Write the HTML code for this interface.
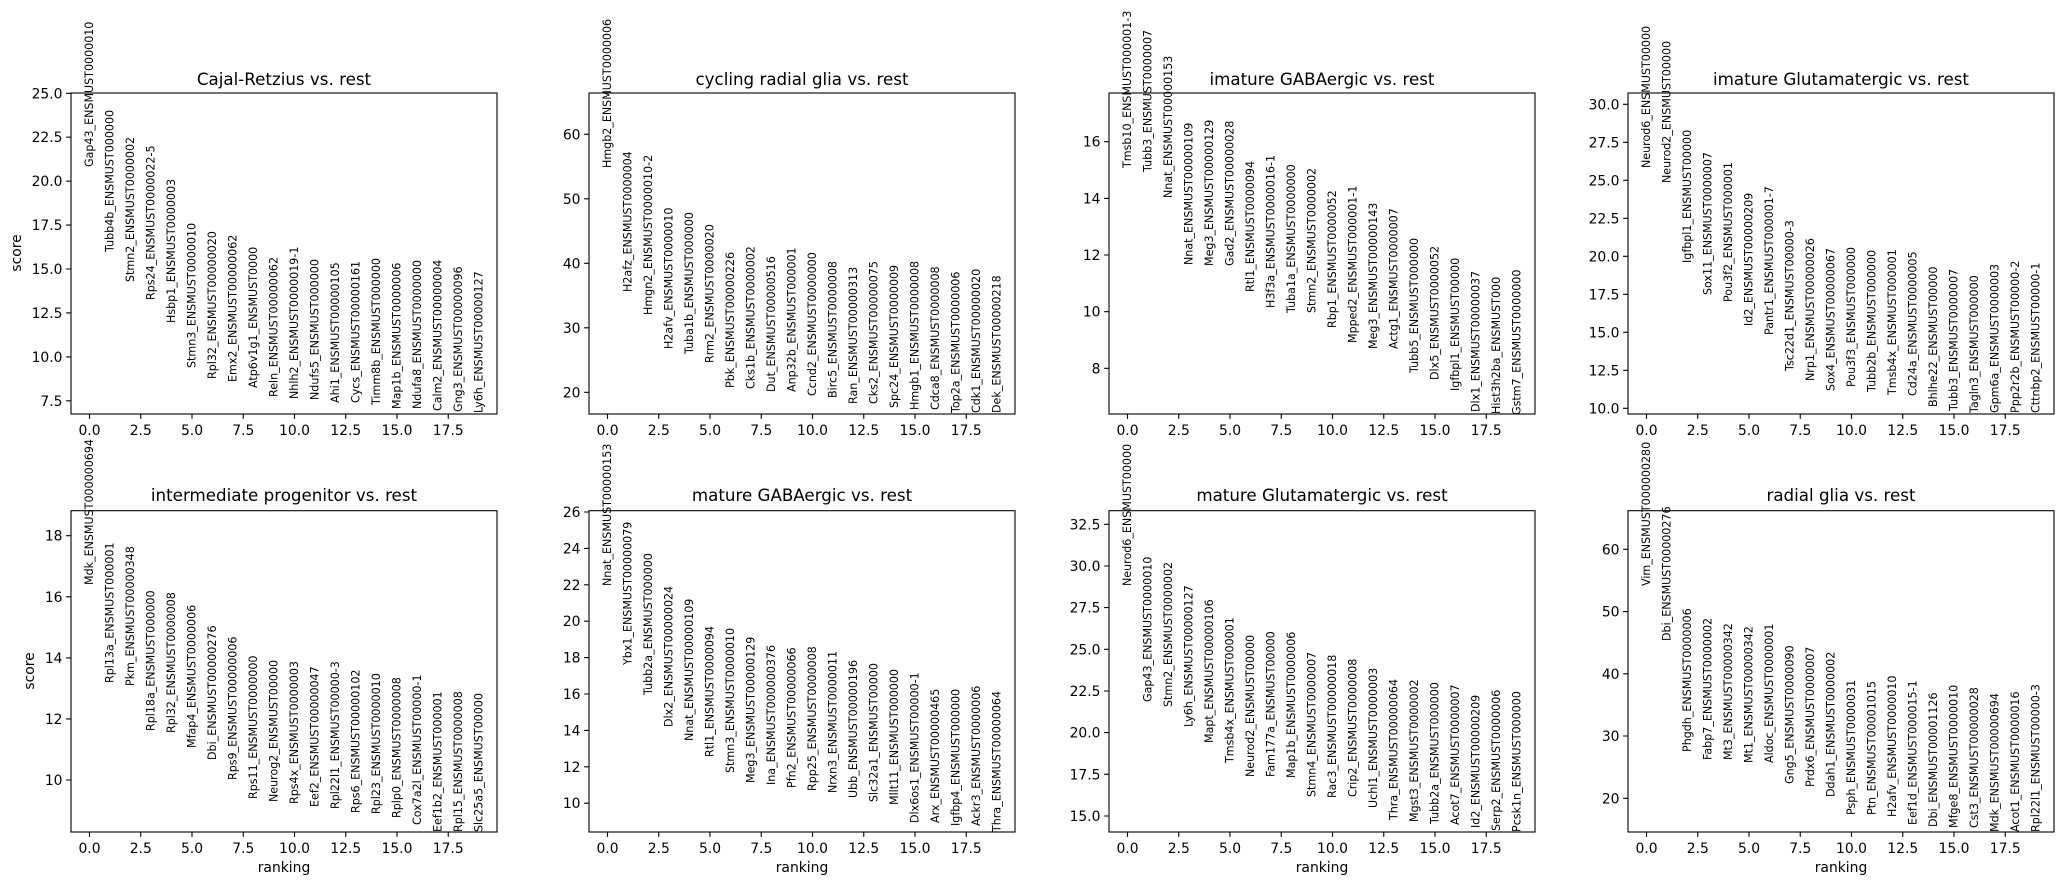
<!DOCTYPE html>
<html><head><meta charset="utf-8"><style>
body{margin:0;background:#fff}
svg{font-family:"DejaVu Sans","Liberation Sans",sans-serif;display:block}
.g{font-size:11.1px}
.t{font-size:13.9px}
.h{font-size:16.7px}
</style></head><body>
<svg width="2064" height="885" viewBox="0 0 2064 885" xmlns="http://www.w3.org/2000/svg">
<defs>
<g id="xt">
<path d="M18.5 0v4.9M69.75 0v4.9M121 0v4.9M172.25 0v4.9M223.5 0v4.9M274.75 0v4.9M326 0v4.9M377.25 0v4.9" stroke="#000" stroke-width="1.1"/>
<g class="t" text-anchor="middle">
<text x="18.5" y="21">0.0</text><text x="69.75" y="21">2.5</text><text x="121" y="21">5.0</text><text x="172.25" y="21">7.5</text><text x="223.5" y="21">10.0</text><text x="274.75" y="21">12.5</text><text x="326" y="21">15.0</text><text x="377.25" y="21">17.5</text>
</g></g>
</defs>

<!-- Panel 1 -->
<g transform="translate(71,0)">
<text class="h" x="213" y="85" text-anchor="middle">Cajal-Retzius vs. rest</text>
<rect x="0" y="93" width="426" height="321" fill="none" stroke="#000" stroke-width="1.1"/>
<g transform="translate(0,414)"><use href="#xt"/></g>
<g class="t" text-anchor="end">
<text x="-8.5" y="98.3">25.0</text><text x="-8.5" y="142.2">22.5</text><text x="-8.5" y="186.2">20.0</text><text x="-8.5" y="230.1">17.5</text><text x="-8.5" y="274.0">15.0</text><text x="-8.5" y="317.9">12.5</text><text x="-8.5" y="361.9">10.0</text><text x="-8.5" y="405.8">7.5</text>
</g>
<path d="M0 93.3h-4.9M0 137.2h-4.9M0 181.2h-4.9M0 225.1h-4.9M0 269h-4.9M0 312.9h-4.9M0 356.9h-4.9M0 400.8h-4.9" stroke="#000" stroke-width="1.1"/>
<g class="g">
<text transform="translate(22,167) rotate(-90)">Gap43_ENSMUST0000010</text>
<text transform="translate(42.5,252) rotate(-90)">Tubb4b_ENSMUST000000</text>
<text transform="translate(63,282) rotate(-90)">Stmn2_ENSMUST0000002</text>
<text transform="translate(83.5,300) rotate(-90)">Rps24_ENSMUST0000022-5</text>
<text transform="translate(104,323) rotate(-90)">Hsbp1_ENSMUST0000003</text>
<text transform="translate(124.5,368) rotate(-90)">Stmn3_ENSMUST0000010</text>
<text transform="translate(145,379) rotate(-90)">Rpl32_ENSMUST00000020</text>
<text transform="translate(165.5,382) rotate(-90)">Emx2_ENSMUST00000062</text>
<text transform="translate(186,388) rotate(-90)">Atp6v1g1_ENSMUST0000</text>
<text transform="translate(206.5,397) rotate(-90)">Reln_ENSMUST00000062</text>
<text transform="translate(227,399) rotate(-90)">Nhlh2_ENSMUST0000019-1</text>
<text transform="translate(247.5,400) rotate(-90)">Ndufs5_ENSMUST000000</text>
<text transform="translate(268,403) rotate(-90)">Ahi1_ENSMUST00000105</text>
<text transform="translate(288.5,403) rotate(-90)">Cycs_ENSMUST00000161</text>
<text transform="translate(309,405) rotate(-90)">Timm8b_ENSMUST000000</text>
<text transform="translate(329.5,409) rotate(-90)">Map1b_ENSMUST0000006</text>
<text transform="translate(350,409) rotate(-90)">Ndufa8_ENSMUST0000000</text>
<text transform="translate(370.5,411) rotate(-90)">Calm2_ENSMUST00000004</text>
<text transform="translate(391,412) rotate(-90)">Gng3_ENSMUST00000096</text>
<text transform="translate(411.5,413) rotate(-90)">Ly6h_ENSMUST00000127</text>
</g>
</g>

<!-- Panel 2 -->
<g transform="translate(589,0)">
<text class="h" x="213" y="85" text-anchor="middle">cycling radial glia vs. rest</text>
<rect x="0" y="93" width="426" height="321" fill="none" stroke="#000" stroke-width="1.1"/>
<g transform="translate(0,414)"><use href="#xt"/></g>
<g class="t" text-anchor="end">
<text x="-8.5" y="139.3">60</text><text x="-8.5" y="203.8">50</text><text x="-8.5" y="268.3">40</text><text x="-8.5" y="332.8">30</text><text x="-8.5" y="397.3">20</text>
</g>
<path d="M0 134.3h-4.9M0 198.8h-4.9M0 263.3h-4.9M0 327.8h-4.9M0 392.3h-4.9" stroke="#000" stroke-width="1.1"/>
<g class="g">
<text transform="translate(22,168) rotate(-90)">Hmgb2_ENSMUST0000006</text>
<text transform="translate(42.5,292) rotate(-90)">H2afz_ENSMUST0000004</text>
<text transform="translate(63,315) rotate(-90)">Hmgn2_ENSMUST0000010-2</text>
<text transform="translate(83.5,349) rotate(-90)">H2afv_ENSMUST0000010</text>
<text transform="translate(104,354) rotate(-90)">Tuba1b_ENSMUST000000</text>
<text transform="translate(124.5,363) rotate(-90)">Rrm2_ENSMUST0000020</text>
<text transform="translate(145,388) rotate(-90)">Pbk_ENSMUST00000226</text>
<text transform="translate(165.5,389) rotate(-90)">Cks1b_ENSMUST0000002</text>
<text transform="translate(186,392) rotate(-90)">Dut_ENSMUST00000516</text>
<text transform="translate(206.5,392) rotate(-90)">Anp32b_ENSMUST000001</text>
<text transform="translate(227,396) rotate(-90)">Ccnd2_ENSMUST0000000</text>
<text transform="translate(247.5,398) rotate(-90)">Birc5_ENSMUST0000008</text>
<text transform="translate(268,404) rotate(-90)">Ran_ENSMUST00000313</text>
<text transform="translate(288.5,404) rotate(-90)">Cks2_ENSMUST00000075</text>
<text transform="translate(309,408) rotate(-90)">Spc24_ENSMUST0000009</text>
<text transform="translate(329.5,410) rotate(-90)">Hmgb1_ENSMUST0000008</text>
<text transform="translate(350,410) rotate(-90)">Cdca8_ENSMUST0000008</text>
<text transform="translate(370.5,413) rotate(-90)">Top2a_ENSMUST0000006</text>
<text transform="translate(391,413) rotate(-90)">Cdk1_ENSMUST00000020</text>
<text transform="translate(411.5,413) rotate(-90)">Dek_ENSMUST00000218</text>
</g>
</g>

<!-- Panel 3 -->
<g transform="translate(1109,0)">
<text class="h" x="213" y="85" text-anchor="middle">imature GABAergic vs. rest</text>
<rect x="0" y="93" width="426" height="321" fill="none" stroke="#000" stroke-width="1.1"/>
<g transform="translate(0,414)"><use href="#xt"/></g>
<g class="t" text-anchor="end">
<text x="-8.5" y="146.7">16</text><text x="-8.5" y="203.4">14</text><text x="-8.5" y="260">12</text><text x="-8.5" y="316.7">10</text><text x="-8.5" y="373.3">8</text>
</g>
<path d="M0 141.7h-4.9M0 198.4h-4.9M0 255h-4.9M0 311.7h-4.9M0 368.3h-4.9" stroke="#000" stroke-width="1.1"/>
<g class="g">
<text transform="translate(22,168) rotate(-90)">Tmsb10_ENSMUST000001-3</text>
<text transform="translate(42.5,172) rotate(-90)">Tubb3_ENSMUST0000007</text>
<text transform="translate(63,198) rotate(-90)">Nnat_ENSMUST00000153</text>
<text transform="translate(83.5,265) rotate(-90)">Nnat_ENSMUST00000109</text>
<text transform="translate(104,266) rotate(-90)">Meg3_ENSMUST00000129</text>
<text transform="translate(124.5,266) rotate(-90)">Gad2_ENSMUST00000028</text>
<text transform="translate(145,292) rotate(-90)">Rtl1_ENSMUST0000094</text>
<text transform="translate(165.5,308) rotate(-90)">H3f3a_ENSMUST0000016-1</text>
<text transform="translate(186,313) rotate(-90)">Tuba1a_ENSMUST0000000</text>
<text transform="translate(206.5,313) rotate(-90)">Stmn2_ENSMUST0000002</text>
<text transform="translate(227,328) rotate(-90)">Rbp1_ENSMUST0000052</text>
<text transform="translate(247.5,343) rotate(-90)">Mpped2_ENSMUST000001-1</text>
<text transform="translate(268,349) rotate(-90)">Meg3_ENSMUST00000143</text>
<text transform="translate(288.5,349) rotate(-90)">Actg1_ENSMUST0000007</text>
<text transform="translate(309,373) rotate(-90)">Tubb5_ENSMUST000000</text>
<text transform="translate(329.5,380) rotate(-90)">Dlx5_ENSMUST0000052</text>
<text transform="translate(350,391) rotate(-90)">Igfbpl1_ENSMUST00000</text>
<text transform="translate(370.5,412) rotate(-90)">Dlx1_ENSMUST00000037</text>
<text transform="translate(391,414) rotate(-90)">Hist3h2ba_ENSMUST000</text>
<text transform="translate(411.5,415) rotate(-90)">Gstm7_ENSMUST0000000</text>
</g>
</g>

<!-- Panel 4 -->
<g transform="translate(1628,0)">
<text class="h" x="213" y="85" text-anchor="middle">imature Glutamatergic vs. rest</text>
<rect x="0" y="93" width="426" height="321" fill="none" stroke="#000" stroke-width="1.1"/>
<g transform="translate(0,414)"><use href="#xt"/></g>
<g class="t" text-anchor="end">
<text x="-8.5" y="109.3">30.0</text><text x="-8.5" y="147.3">27.5</text><text x="-8.5" y="185.3">25.0</text><text x="-8.5" y="223.3">22.5</text><text x="-8.5" y="261.3">20.0</text><text x="-8.5" y="299.3">17.5</text><text x="-8.5" y="337.3">15.0</text><text x="-8.5" y="375.3">12.5</text><text x="-8.5" y="413.3">10.0</text>
</g>
<path d="M0 104.3h-4.9M0 142.3h-4.9M0 180.3h-4.9M0 218.3h-4.9M0 256.3h-4.9M0 294.3h-4.9M0 332.3h-4.9M0 370.3h-4.9M0 408.3h-4.9" stroke="#000" stroke-width="1.1"/>
<g class="g">
<text transform="translate(22,168) rotate(-90)">Neurod6_ENSMUST00000</text>
<text transform="translate(42.5,183) rotate(-90)">Neurod2_ENSMUST00000</text>
<text transform="translate(63,263) rotate(-90)">Igfbpl1_ENSMUST00000</text>
<text transform="translate(83.5,295) rotate(-90)">Sox11_ENSMUST0000007</text>
<text transform="translate(104,302) rotate(-90)">Pou3f2_ENSMUST000001</text>
<text transform="translate(124.5,326) rotate(-90)">Id2_ENSMUST00000209</text>
<text transform="translate(145,335) rotate(-90)">Pantr1_ENSMUST000001-7</text>
<text transform="translate(165.5,371) rotate(-90)">Tsc22d1_ENSMUST00000-3</text>
<text transform="translate(186,381) rotate(-90)">Nrp1_ENSMUST00000026</text>
<text transform="translate(206.5,391) rotate(-90)">Sox4_ENSMUST00000067</text>
<text transform="translate(227,387) rotate(-90)">Pou3f3_ENSMUST000000</text>
<text transform="translate(247.5,392) rotate(-90)">Tubb2b_ENSMUST000000</text>
<text transform="translate(268,395) rotate(-90)">Tmsb4x_ENSMUST000001</text>
<text transform="translate(288.5,396) rotate(-90)">Cd24a_ENSMUST0000005</text>
<text transform="translate(309,407) rotate(-90)">Bhlhe22_ENSMUST00000</text>
<text transform="translate(329.5,411) rotate(-90)">Tubb3_ENSMUST0000007</text>
<text transform="translate(350,413) rotate(-90)">Tagln3_ENSMUST000000</text>
<text transform="translate(370.5,413) rotate(-90)">Gpm6a_ENSMUST0000003</text>
<text transform="translate(391,413) rotate(-90)">Ppp2r2b_ENSMUST00000-2</text>
<text transform="translate(411.5,413) rotate(-90)">Cttnbp2_ENSMUST00000-1</text>
</g>
</g>

<!-- Panel 5 -->
<g transform="translate(71,0)">
<text class="h" x="213" y="501" text-anchor="middle">intermediate progenitor vs. rest</text>
<rect x="0" y="510.7" width="426" height="321.3" fill="none" stroke="#000" stroke-width="1.1"/>
<g transform="translate(0,832)"><use href="#xt"/></g>
<text class="t" x="213" y="872" text-anchor="middle">ranking</text>
<g class="t" text-anchor="end">
<text x="-8.5" y="540.7">18</text><text x="-8.5" y="601.8">16</text><text x="-8.5" y="662.9">14</text><text x="-8.5" y="723.9">12</text><text x="-8.5" y="785">10</text>
</g>
<path d="M0 535.7h-4.9M0 596.8h-4.9M0 657.9h-4.9M0 718.9h-4.9M0 780h-4.9" stroke="#000" stroke-width="1.1"/>
<g class="g">
<text transform="translate(22,585) rotate(-90)">Mdk_ENSMUST000000694</text>
<text transform="translate(42.5,683) rotate(-90)">Rpl13a_ENSMUST000001</text>
<text transform="translate(63,686) rotate(-90)">Pkm_ENSMUST00000348</text>
<text transform="translate(83.5,731) rotate(-90)">Rpl18a_ENSMUST000000</text>
<text transform="translate(104,733) rotate(-90)">Rpl32_ENSMUST0000008</text>
<text transform="translate(124.5,748) rotate(-90)">Mfap4_ENSMUST0000006</text>
<text transform="translate(145,760) rotate(-90)">Dbi_ENSMUST00000276</text>
<text transform="translate(165.5,780) rotate(-90)">Rps9_ENSMUST00000006</text>
<text transform="translate(186,799) rotate(-90)">Rps11_ENSMUST0000000</text>
<text transform="translate(206.5,802) rotate(-90)">Neurog2_ENSMUST00000</text>
<text transform="translate(227,804) rotate(-90)">Rps4x_ENSMUST0000003</text>
<text transform="translate(247.5,807) rotate(-90)">Eef2_ENSMUST00000047</text>
<text transform="translate(268,809) rotate(-90)">Rpl22l1_ENSMUST00000-3</text>
<text transform="translate(288.5,813) rotate(-90)">Rps6_ENSMUST00000102</text>
<text transform="translate(309,814) rotate(-90)">Rpl23_ENSMUST0000010</text>
<text transform="translate(329.5,818) rotate(-90)">Rplp0_ENSMUST0000008</text>
<text transform="translate(350,825) rotate(-90)">Cox7a2l_ENSMUST00000-1</text>
<text transform="translate(370.5,832) rotate(-90)">Eef1b2_ENSMUST000001</text>
<text transform="translate(391,832) rotate(-90)">Rpl15_ENSMUST0000008</text>
<text transform="translate(411.5,832) rotate(-90)">Slc25a5_ENSMUST00000</text>
</g>
</g>

<!-- Panel 6 -->
<g transform="translate(589,0)">
<text class="h" x="213" y="501" text-anchor="middle">mature GABAergic vs. rest</text>
<rect x="0" y="510.7" width="426" height="321.3" fill="none" stroke="#000" stroke-width="1.1"/>
<g transform="translate(0,832)"><use href="#xt"/></g>
<text class="t" x="213" y="872" text-anchor="middle">ranking</text>
<g class="t" text-anchor="end">
<text x="-8.5" y="517">26</text><text x="-8.5" y="553.4">24</text><text x="-8.5" y="589.8">22</text><text x="-8.5" y="626.2">20</text><text x="-8.5" y="662.6">18</text><text x="-8.5" y="699">16</text><text x="-8.5" y="735.4">14</text><text x="-8.5" y="771.8">12</text><text x="-8.5" y="808.2">10</text>
</g>
<path d="M0 512h-4.9M0 548.4h-4.9M0 584.8h-4.9M0 621.2h-4.9M0 657.6h-4.9M0 694h-4.9M0 730.4h-4.9M0 766.8h-4.9M0 803.2h-4.9" stroke="#000" stroke-width="1.1"/>
<g class="g">
<text transform="translate(22,586) rotate(-90)">Nnat_ENSMUST00000153</text>
<text transform="translate(42.5,665) rotate(-90)">Ybx1_ENSMUST00000079</text>
<text transform="translate(63,695) rotate(-90)">Tubb2a_ENSMUST000000</text>
<text transform="translate(83.5,727) rotate(-90)">Dlx2_ENSMUST00000024</text>
<text transform="translate(104,741) rotate(-90)">Nnat_ENSMUST00000109</text>
<text transform="translate(124.5,757) rotate(-90)">Rtl1_ENSMUST0000094</text>
<text transform="translate(145,773) rotate(-90)">Stmn3_ENSMUST0000010</text>
<text transform="translate(165.5,783) rotate(-90)">Meg3_ENSMUST00000129</text>
<text transform="translate(186,785) rotate(-90)">Ina_ENSMUST000000376</text>
<text transform="translate(206.5,788) rotate(-90)">Pfn2_ENSMUST00000066</text>
<text transform="translate(227,791) rotate(-90)">Rpp25_ENSMUST0000008</text>
<text transform="translate(247.5,793) rotate(-90)">Nrxn3_ENSMUST0000011</text>
<text transform="translate(268,798) rotate(-90)">Ubb_ENSMUST00000196</text>
<text transform="translate(288.5,802) rotate(-90)">Slc32a1_ENSMUST00000</text>
<text transform="translate(309,805) rotate(-90)">Mllt11_ENSMUST000000</text>
<text transform="translate(329.5,823) rotate(-90)">Dlx6os1_ENSMUST00000-1</text>
<text transform="translate(350,823) rotate(-90)">Arx_ENSMUST00000465</text>
<text transform="translate(370.5,826) rotate(-90)">Igfbp4_ENSMUST000000</text>
<text transform="translate(391,826) rotate(-90)">Ackr3_ENSMUST0000006</text>
<text transform="translate(411.5,832) rotate(-90)">Thra_ENSMUST00000064</text>
</g>
</g>

<!-- Panel 7 -->
<g transform="translate(1109,0)">
<text class="h" x="213" y="501" text-anchor="middle">mature Glutamatergic vs. rest</text>
<rect x="0" y="510.7" width="426" height="321.3" fill="none" stroke="#000" stroke-width="1.1"/>
<g transform="translate(0,832)"><use href="#xt"/></g>
<text class="t" x="213" y="872" text-anchor="middle">ranking</text>
<g class="t" text-anchor="end">
<text x="-8.5" y="529.3">32.5</text><text x="-8.5" y="571">30.0</text><text x="-8.5" y="612.6">27.5</text><text x="-8.5" y="654.3">25.0</text><text x="-8.5" y="696">22.5</text><text x="-8.5" y="737.6">20.0</text><text x="-8.5" y="779.3">17.5</text><text x="-8.5" y="821">15.0</text>
</g>
<path d="M0 524.3h-4.9M0 566h-4.9M0 607.6h-4.9M0 649.3h-4.9M0 691h-4.9M0 732.6h-4.9M0 774.3h-4.9M0 816h-4.9" stroke="#000" stroke-width="1.1"/>
<g class="g">
<text transform="translate(22,586) rotate(-90)">Neurod6_ENSMUST00000</text>
<text transform="translate(42.5,702) rotate(-90)">Gap43_ENSMUST0000010</text>
<text transform="translate(63,707) rotate(-90)">Stmn2_ENSMUST0000002</text>
<text transform="translate(83.5,727) rotate(-90)">Ly6h_ENSMUST00000127</text>
<text transform="translate(104,743) rotate(-90)">Mapt_ENSMUST00000106</text>
<text transform="translate(124.5,763) rotate(-90)">Tmsb4x_ENSMUST000001</text>
<text transform="translate(145,777) rotate(-90)">Neurod2_ENSMUST00000</text>
<text transform="translate(165.5,777) rotate(-90)">Fam177a_ENSMUST00000</text>
<text transform="translate(186,778) rotate(-90)">Map1b_ENSMUST0000006</text>
<text transform="translate(206.5,797) rotate(-90)">Stmn4_ENSMUST0000007</text>
<text transform="translate(227,798) rotate(-90)">Rac3_ENSMUST00000018</text>
<text transform="translate(247.5,797) rotate(-90)">Crip2_ENSMUST0000008</text>
<text transform="translate(268,808) rotate(-90)">Uchl1_ENSMUST0000003</text>
<text transform="translate(288.5,820) rotate(-90)">Thra_ENSMUST00000064</text>
<text transform="translate(309,822) rotate(-90)">Mgst3_ENSMUST0000002</text>
<text transform="translate(329.5,824) rotate(-90)">Tubb2a_ENSMUST000000</text>
<text transform="translate(350,825) rotate(-90)">Acot7_ENSMUST0000007</text>
<text transform="translate(370.5,828) rotate(-90)">Id2_ENSMUST00000209</text>
<text transform="translate(391,831) rotate(-90)">Serp2_ENSMUST0000006</text>
<text transform="translate(411.5,832) rotate(-90)">Pcsk1n_ENSMUST000000</text>
</g>
</g>

<!-- Panel 8 -->
<g transform="translate(1628,0)">
<text class="h" x="213" y="501" text-anchor="middle">radial glia vs. rest</text>
<rect x="0" y="510.7" width="426" height="321.3" fill="none" stroke="#000" stroke-width="1.1"/>
<g transform="translate(0,832)"><use href="#xt"/></g>
<text class="t" x="213" y="872" text-anchor="middle">ranking</text>
<g class="t" text-anchor="end">
<text x="-8.5" y="554.3">60</text><text x="-8.5" y="616.6">50</text><text x="-8.5" y="678.8">40</text><text x="-8.5" y="741">30</text><text x="-8.5" y="803.3">20</text>
</g>
<path d="M0 549.3h-4.9M0 611.6h-4.9M0 673.8h-4.9M0 736h-4.9M0 798.3h-4.9" stroke="#000" stroke-width="1.1"/>
<g class="g">
<text transform="translate(22,586) rotate(-90)">Vim_ENSMUST000000280</text>
<text transform="translate(42.5,641) rotate(-90)">Dbi_ENSMUST00000276</text>
<text transform="translate(63,752) rotate(-90)">Phgdh_ENSMUST0000006</text>
<text transform="translate(83.5,760) rotate(-90)">Fabp7_ENSMUST0000002</text>
<text transform="translate(104,760) rotate(-90)">Mt3_ENSMUST00000342</text>
<text transform="translate(124.5,763) rotate(-90)">Mt1_ENSMUST00000342</text>
<text transform="translate(145,763) rotate(-90)">Aldoc_ENSMUST0000001</text>
<text transform="translate(165.5,784) rotate(-90)">Gng5_ENSMUST0000090</text>
<text transform="translate(186,787) rotate(-90)">Prdx6_ENSMUST0000007</text>
<text transform="translate(206.5,797) rotate(-90)">Ddah1_ENSMUST0000002</text>
<text transform="translate(227,815) rotate(-90)">Psph_ENSMUST0000031</text>
<text transform="translate(247.5,815) rotate(-90)">Ptn_ENSMUST00001015</text>
<text transform="translate(268,817) rotate(-90)">H2afv_ENSMUST0000010</text>
<text transform="translate(288.5,825) rotate(-90)">Eef1d_ENSMUST000015-1</text>
<text transform="translate(309,827) rotate(-90)">Dbi_ENSMUST00001126</text>
<text transform="translate(329.5,828) rotate(-90)">Mfge8_ENSMUST0000010</text>
<text transform="translate(350,828) rotate(-90)">Cst3_ENSMUST00000028</text>
<text transform="translate(370.5,832) rotate(-90)">Mdk_ENSMUST00000694</text>
<text transform="translate(391,832) rotate(-90)">Acot1_ENSMUST0000016</text>
<text transform="translate(411.5,832) rotate(-90)">Rpl22l1_ENSMUST00000-3</text>
</g>
</g>

<text class="t" transform="translate(21,253) rotate(-90)" text-anchor="middle">score</text>
<text class="t" transform="translate(34,671) rotate(-90)" text-anchor="middle">score</text>
</svg>
</body></html>
